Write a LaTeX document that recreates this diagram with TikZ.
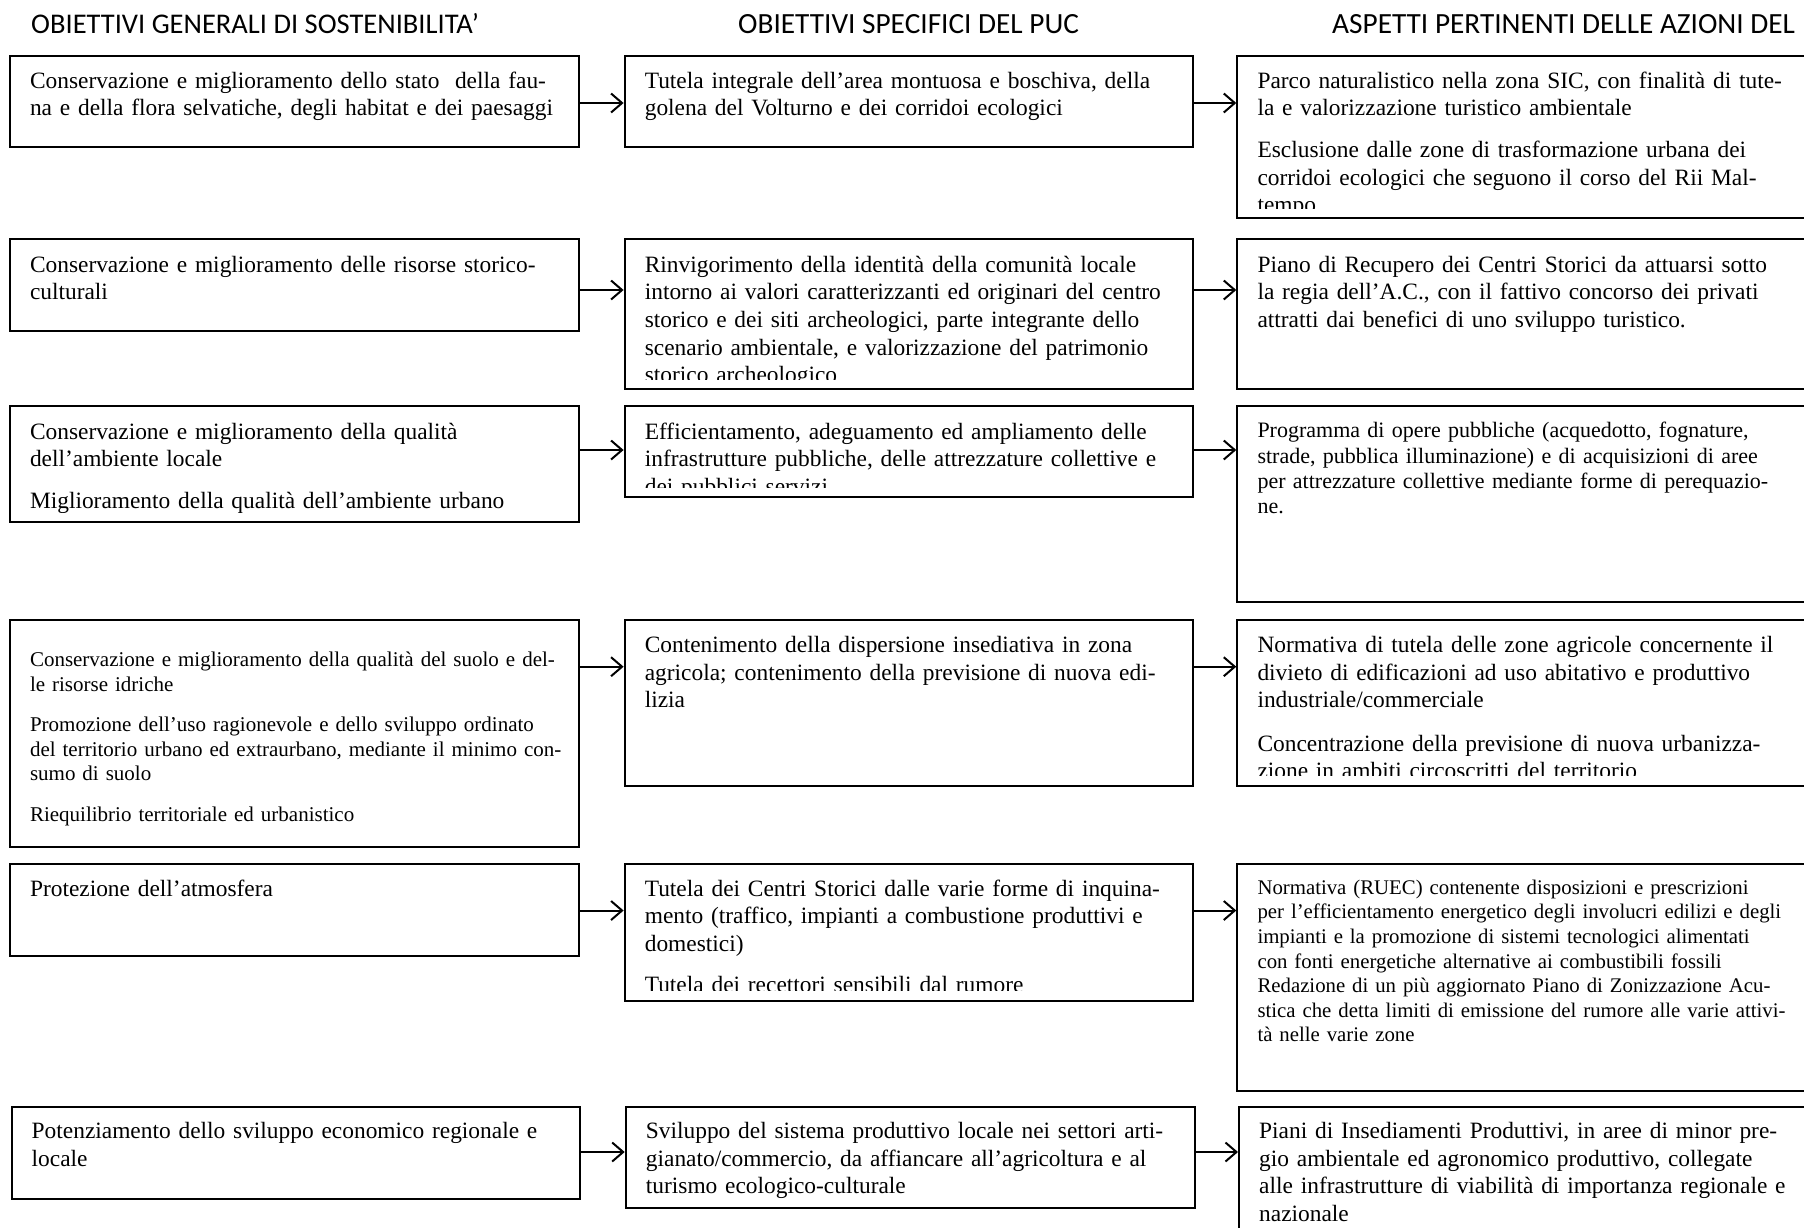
\documentclass[tikz,border=0pt]{standalone}
\usepackage{fontspec}
\setmainfont{Liberation Serif}
\newfontfamily\hfont{Carlito}
\usetikzlibrary{arrows.meta,fit}
\tikzset{
  boxst/.style={draw=black, line width=2pt, inner sep=0pt, rectangle},
  txt/.style={anchor=base west, inner sep=0pt, text width=560pt, align=left,
    font=\fontsize{23.4}{27.6}\selectfont},
  fsA/.style={font=\fontsize{22}{25.3}\selectfont},
  fsB/.style={font=\fontsize{21}{24.5}\selectfont},
  fsC/.style={font=\fontsize{20.8}{24.6}\selectfont},
  hd/.style={anchor=base west, inner sep=0pt, font=\hfont\fontsize{28.5}{34}\selectfont},
  hdb/.style={font=\hfont\fontsize{29.3}{34}\selectfont},
  arr/.style={line width=2pt, -{Straight Barb[length=11pt,width=19pt]}}
}
\newcommand\mkbox[5]{\node[boxst, fit={(#2,#3) (#4,#5)}] (#1) {};}
\newcommand\mktext[4]{%
  \begin{scope}
    \clip ([xshift=-1pt]#1.north west) rectangle ([yshift=11pt]#1.south east);
    \node[txt,#3] (#1t) at ([xshift=21pt,yshift=-#2pt]#1.north west) {#4};
  \end{scope}}
\begin{document}
\begin{tikzpicture}[x=1pt,y=-1pt]
\useasboundingbox (0,0) rectangle (1804,1227);
\fill[white] (0,0) rectangle (1804,1227);
\clip (0,0) rectangle (1804,1227);

% headings
\node[hd] (h1) at (31,33.3) {OBIETTIVI GENERALI DI SOSTENIBILITA’};
\node[hd,hdb] (h2) at (738,33.3) {OBIETTIVI SPECIFICI DEL PUC};
\node[hd,hdb] (h3) at (1332,33.3) {ASPETTI PERTINENTI DELLE AZIONI DEL};

% row 1
\mkbox{b11}{9.8}{55.7}{578.6}{147.3}
\mkbox{b12}{624.6}{55.7}{1192.9}{147.3}
\mkbox{b13}{1237.3}{55.7}{1840}{218.3}
\mktext{b11}{33.5}{}{Conservazione e miglioramento dello stato\ \ della fau-\\na e della flora selvatiche, degli habitat e dei paesaggi}
\mktext{b12}{33.5}{}{Tutela integrale dell’area montuosa e boschiva, della\\golena del Volturno e dei corridoi ecologici}
\mktext{b13}{33.5}{}{Parco naturalistico nella zona SIC, con finalità di tute-\\la e valorizzazione turistico ambientale\\[14pt]Esclusione dalle zone di trasformazione urbana dei\\corridoi ecologici che seguono il corso del Rii Mal-\\tempo}
\coordinate (a1) at (0,103);
\draw[arr] (b11.east |- a1) -- (b12.west |- a1);
\draw[arr] (b12.east |- a1) -- (b13.west |- a1);

% row 2
\mkbox{b21}{9.8}{239.3}{578.6}{331}
\mkbox{b22}{624.6}{239.3}{1192.9}{389.3}
\mkbox{b23}{1237.3}{239.3}{1840}{389.3}
\mktext{b21}{34}{}{Conservazione e miglioramento delle risorse storico-\\culturali}
\mktext{b22}{34}{}{Rinvigorimento della identità della comunità locale\\intorno ai valori caratterizzanti ed originari del centro\\storico e dei siti archeologici, parte integrante dello\\scenario ambientale, e valorizzazione del patrimonio\\storico archeologico}
\mktext{b23}{34}{}{Piano di Recupero dei Centri Storici da attuarsi sotto\\la regia dell’A.C., con il fattivo concorso dei privati\\attratti dai benefici di uno sviluppo turistico.}
\coordinate (a2) at (0,290);
\draw[arr] (b21.east |- a2) -- (b22.west |- a2);
\draw[arr] (b22.east |- a2) -- (b23.west |- a2);

% row 3
\mkbox{b31}{9.8}{405.7}{578.6}{522.3}
\mkbox{b32}{624.6}{405.7}{1192.9}{497.3}
\mkbox{b33}{1237.3}{405.7}{1840}{601.7}
\mktext{b31}{34.5}{}{Conservazione e miglioramento della qualità\\dell’ambiente locale\\[14pt]Miglioramento della qualità dell’ambiente urbano}
\mktext{b32}{34.5}{}{Efficientamento, adeguamento ed ampliamento delle\\infrastrutture pubbliche, delle attrezzature collettive e\\dei pubblici servizi}
\mktext{b33}{33}{fsA}{Programma di opere pubbliche (acquedotto, fognature,\\strade, pubblica illuminazione) e di acquisizioni di aree\\per attrezzature collettive mediante forme di perequazio-\\ne.}
\coordinate (a3) at (0,450);
\draw[arr] (b31.east |- a3) -- (b32.west |- a3);
\draw[arr] (b32.east |- a3) -- (b33.west |- a3);

% row 4
\mkbox{b41}{9.8}{620}{578.6}{846.7}
\mkbox{b42}{624.6}{620}{1192.9}{785.7}
\mkbox{b43}{1237.3}{620}{1840}{785.7}
\mktext{b41}{47.5}{fsB}{Conservazione e miglioramento della qualità del suolo e del-\\le risorse idriche\\[16pt]Promozione dell’uso ragionevole e dello sviluppo ordinato\\del territorio urbano ed extraurbano, mediante il minimo con-\\sumo di suolo\\[16pt]Riequilibrio territoriale ed urbanistico}
\mktext{b42}{33.5}{}{Contenimento della dispersione insediativa in zona\\agricola; contenimento della previsione di nuova edi-\\lizia}
\mktext{b43}{33.5}{}{Normativa di tutela delle zone agricole concernente il\\divieto di edificazioni ad uso abitativo e produttivo\\industriale/commerciale\\[16pt]Concentrazione della previsione di nuova urbanizza-\\zione in ambiti circoscritti del territorio}
\coordinate (a4) at (0,666.7);
\draw[arr] (b41.east |- a4) -- (b42.west |- a4);
\draw[arr] (b42.east |- a4) -- (b43.west |- a4);

% row 5
\mkbox{b51}{9.8}{864}{578.6}{956}
\mkbox{b52}{624.6}{864}{1192.9}{1000.7}
\mkbox{b53}{1237.3}{864}{1840}{1090.7}
\mktext{b51}{33}{}{Protezione dell’atmosfera}
\mktext{b52}{33}{}{Tutela dei Centri Storici dalle varie forme di inquina-\\mento (traffico, impianti a combustione produttivi e\\domestici)\\[14pt]Tutela dei recettori sensibili dal rumore}
\mktext{b53}{31.2}{fsC}{Normativa (RUEC) contenente disposizioni e prescrizioni\\per l’efficientamento energetico degli involucri edilizi e degli\\impianti e la promozione di sistemi tecnologici alimentati\\con fonti energetiche alternative ai combustibili fossili\\Redazione di un più aggiornato Piano di Zonizzazione Acu-\\stica che detta limiti di emissione del rumore alle varie attivi-\\tà nelle varie zone}
\coordinate (a5) at (0,910.5);
\draw[arr] (b51.east |- a5) -- (b52.west |- a5);
\draw[arr] (b52.east |- a5) -- (b53.west |- a5);

% row 6
\mkbox{b61}{11.5}{1106.7}{579.8}{1199.3}
\mkbox{b62}{625.7}{1106.7}{1195.2}{1208.3}
\mkbox{b63}{1239}{1106.7}{1840}{1270}
\mktext{b61}{33}{}{Potenziamento dello sviluppo economico regionale e\\locale}
\mktext{b62}{33}{}{Sviluppo del sistema produttivo locale nei settori arti-\\gianato/commercio, da affiancare all’agricoltura e al\\turismo ecologico-culturale}
\mktext{b63}{33}{}{Piani di Insediamenti Produttivi, in aree di minor pre-\\gio ambientale ed agronomico produttivo, collegate\\alle infrastrutture di viabilità di importanza regionale e\\nazionale}
\coordinate (a6) at (0,1152);
\draw[arr] (b61.east |- a6) -- (b62.west |- a6);
\draw[arr] (b62.east |- a6) -- (b63.west |- a6);
\end{tikzpicture}
\end{document}
